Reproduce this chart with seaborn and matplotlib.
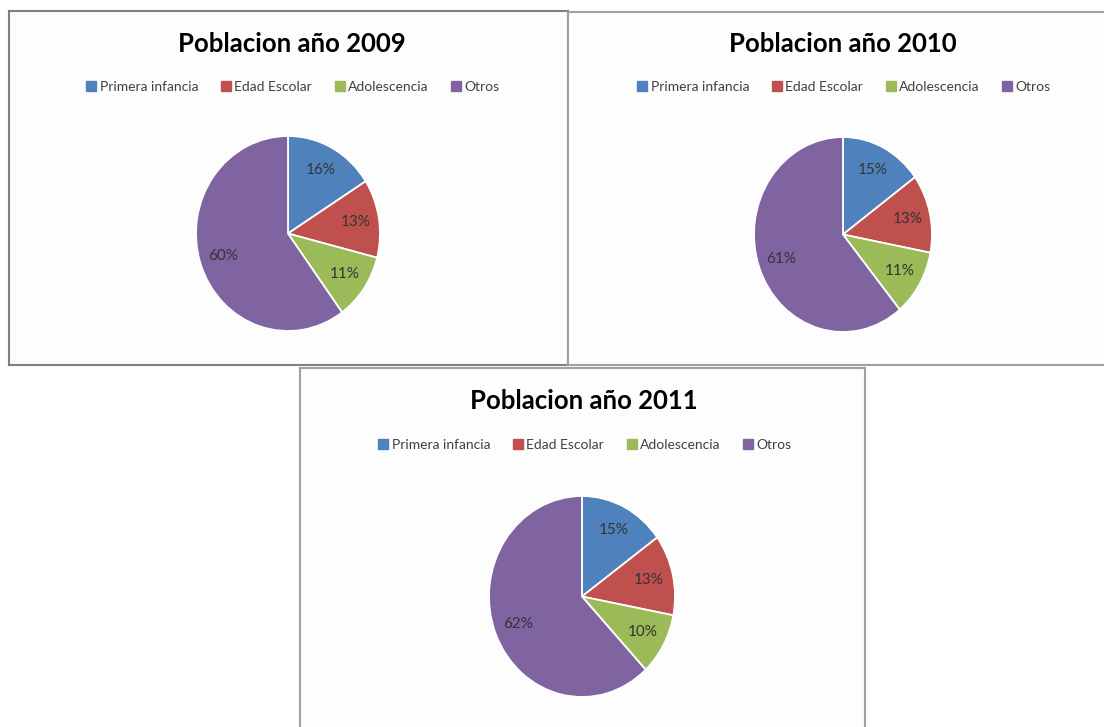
import matplotlib
matplotlib.use("Agg")
import matplotlib.pyplot as plt
import seaborn as sns
from matplotlib.lines import Line2D

categories = ["Primera infancia", "Edad Escolar", "Adolescencia", "Otros"]
years = ["2009", "2010", "2011"]
values_2009 = [16, 13, 11, 60]
values_2010 = [15, 13, 11, 61]
values_2011 = [15, 13, 10, 62]
colors = ["#4F81BD", "#C0504D", "#9BBB59", "#8064A2"]

sns.set_theme(style="white")
plt.rcParams["font.family"] = ["Lato", "DejaVu Sans"]

W, H = 1104, 727
fig = plt.figure(figsize=(W / 100, H / 100), dpi=100)
fig.patch.set_facecolor("white")


def frac(x0, y0, x1, y1):
    return [x0 / W, 1 - y1 / H, (x1 - x0) / W, (y1 - y0) / H]


panels = [
    dict(year=years[0], vals=values_2009, box=(9, 11, 568, 365), pie=(196, 136, 380, 331),
         title_y=44, leg_y=87, cx=292, border="#808080"),
    dict(year=years[1], vals=values_2010, box=(568, 12, 1110, 365), pie=(754, 137, 932, 332),
         title_y=44, leg_y=87, cx=843, border="#a0a0a0"),
    dict(year=years[2], vals=values_2011, box=(300, 368, 865, 735), pie=(489, 496, 675, 697),
         title_y=401, leg_y=445, cx=584, border="#a0a0a0"),
]

for p in panels:
    bx = fig.add_axes(frac(*p["box"]))
    bx.set_xticks([]); bx.set_yticks([])
    bx.set_facecolor("#fdfdfd")
    for s in bx.spines.values():
        s.set_color(p["border"])
        s.set_linewidth(1.5)
    bx.set_zorder(0)

    ax = fig.add_axes(frac(*p["pie"]))
    ax.set_zorder(1)
    ax.pie(
        p["vals"], colors=colors, startangle=90, counterclock=False,
        autopct=lambda v: f"{v:.0f}%", pctdistance=0.74,
        wedgeprops=dict(edgecolor="white", linewidth=1.3),
        textprops=dict(fontsize=11, color="#333333"),
    )
    ax.set_xlim(-1.0, 1.0)
    ax.set_ylim(-1.0, 1.0)
    ax.set_aspect("auto")
    ax.axis("off")

    fig.text(p["cx"] / W, 1 - p["title_y"] / H, f"Poblacion año {p['year']}",
             ha="center", va="center", fontsize=18.5, fontweight="bold", color="black")

    handles = [Line2D([0], [0], marker="s", linestyle="none", markersize=6.5,
                      markerfacecolor=c, markeredgecolor=c) for c in colors]
    fig.legend(handles, categories, loc="center", ncol=4,
               bbox_to_anchor=(p["cx"] / W, 1 - p["leg_y"] / H),
               frameon=False, fontsize=10, handletextpad=0.1,
               columnspacing=1.5, handlelength=1.0, labelcolor="#404040")

fig.savefig("out.png", dpi=100, facecolor="white")
